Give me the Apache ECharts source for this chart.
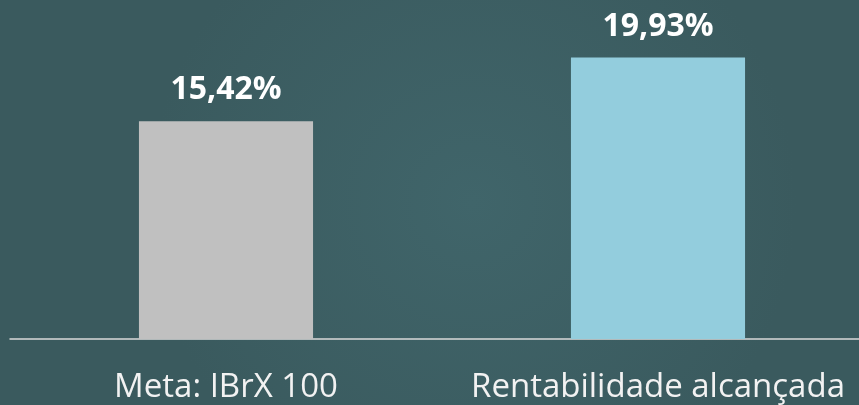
<!DOCTYPE html>
<html>
<head>
<meta charset="utf-8">
<script src="https://cdn.jsdelivr.net/npm/echarts@6/dist/echarts.min.js"></script>
<style>
  html, body { margin: 0; padding: 0; }
  #chart { width: 859px; height: 405px; }
</style>
</head>
<body>
<div id="chart"></div>
<script>
const categories = ['Meta: IBrX 100', 'Rentabilidade alcançada'];
const values = [15.42, 19.93];
const barColors = ['#c0c0c0', '#93cddd'];

const chart = echarts.init(document.getElementById('chart'));
chart.setOption({
  backgroundColor: {
    type: 'radial', x: 0.55, y: 0.5, r: 0.8,
    colorStops: [
      { offset: 0, color: '#40656a' },
      { offset: 1, color: '#3a5a5e' }
    ]
  },
  grid: { left: 10, width: 864, top: 0, bottom: 66, outerBoundsMode: 'none' },
  xAxis: {
    type: 'category',
    data: categories,
    axisLine: { lineStyle: { color: '#d9d9d9', width: 1.5 } },
    axisTick: { show: false },
    axisLabel: {
      interval: 0,
      color: '#f2f2f2',
      fontFamily: 'Open Sans',
      fontSize: 33,
      margin: 32
    }
  },
  yAxis: { type: 'value', min: 0, max: 24, show: false },
  series: [{
    type: 'bar',
    barWidth: '40.3%',
    data: values.map((v, i) => ({ value: v, itemStyle: { color: barColors[i] } })),
    label: {
      show: true,
      position: 'top',
      distance: 15,
      color: '#ffffff',
      fontFamily: 'Open Sans',
      fontWeight: 'bold',
      fontSize: 32,
      formatter: (p) => p.value.toFixed(2).replace('.', ',') + '%'
    }
  }]
});
</script>
</body>
</html>
